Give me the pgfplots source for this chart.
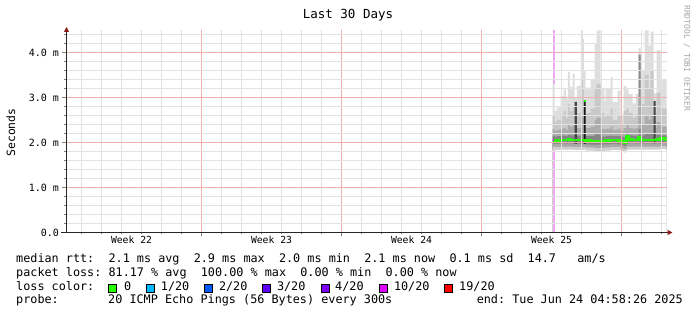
\documentclass[border=0pt]{standalone}
\usepackage{fontspec}
\setmainfont{DejaVu Sans Mono}
\newfontfamily\rrd{DejaVu Sans Mono}
\usepackage{pgfplots}
\pgfplotsset{compat=1.18}
\usepackage{pgfplotstable}
\usetikzlibrary{arrows.meta}
\definecolor{arrowred}{HTML}{8B1A1A}
\definecolor{mgrid}{HTML}{F0B0B0}
\definecolor{mingrid}{HTML}{E2E2E2}
\definecolor{s1}{HTML}{DEDEDE}
\definecolor{s2}{HTML}{C8C8C8}
\definecolor{s3}{HTML}{ACACAC}
\definecolor{s4}{HTML}{858585}
\definecolor{sda}{HTML}{454545}
\definecolor{sdb}{HTML}{181818}
\definecolor{sdc}{HTML}{8C8C8C}
\definecolor{slo1}{HTML}{A8A8A8}
\definecolor{slo2}{HTML}{CECECE}
\definecolor{pinkloss}{HTML}{F2A6F2}
\definecolor{c0}{HTML}{26FF00}
\definecolor{c1}{HTML}{00B8FF}
\definecolor{c2}{HTML}{0059FF}
\definecolor{c3}{HTML}{5E00FF}
\definecolor{c4}{HTML}{7E00FF}
\definecolor{c10}{HTML}{DD00FF}
\definecolor{c19}{HTML}{FF0000}

\pgfplotstableread{
x mx l2 l3 l4 da db dc lo1 lo2 lo3 med
24.30 3.30 2.60 2.30 2.15 0 0 0 1.97 1.91 1.84 2.05
24.40 2.70 2.45 2.25 2.13 0 0 0 1.97 1.90 1.83 2.04
24.50 2.78 2.50 2.28 2.14 0 0 0 1.97 1.90 1.83 2.04
24.70 3.03 2.62 2.30 2.15 0 0 0 1.98 1.91 1.84 2.05
24.85 3.18 2.70 2.32 2.15 0 0 0 1.98 1.91 1.84 2.06
24.97 2.98 2.55 2.28 2.14 0 0 0 1.97 1.90 1.83 2.06
25.07 3.57 2.85 2.40 2.17 0 0 0 1.98 1.91 1.84 2.07
25.17 3.23 2.70 2.35 2.16 0 0 0 1.98 1.91 1.84 2.06
25.30 3.53 2.80 2.38 2.16 0 0 0 1.97 1.90 1.83 2.05
25.40 3.00 2.90 2.40 2.16 2.90 0 0 1.97 1.90 1.83 2.05
25.52 3.26 2.65 2.32 2.15 0 0 0 1.97 1.90 1.83 2.05
25.72 4.49 3.40 2.60 2.20 0 0 0 1.97 1.90 1.83 2.05
25.82 4.30 3.20 2.55 2.20 0 0 0 1.97 1.90 1.83 2.05
25.87 3.60 2.92 2.60 2.20 0 2.92 0 1.97 1.91 1.84 2.05
25.95 3.22 2.65 2.32 2.14 0 0 0 1.96 1.89 1.82 2.04
26.20 3.41 2.75 2.35 2.14 0 0 0 1.95 1.89 1.82 2.03
26.40 4.20 3.20 2.50 2.18 0 0 0 1.95 1.88 1.81 2.02
26.50 4.49 3.30 2.55 2.18 0 0 0 1.95 1.88 1.81 2.02
26.70 3.20 2.65 2.30 2.13 0 0 0 1.95 1.88 1.81 2.02
26.90 2.92 2.55 2.28 2.13 0 0 0 1.96 1.89 1.82 2.03
26.95 3.19 2.62 2.30 2.14 0 0 0 1.96 1.89 1.82 2.04
27.20 3.45 2.75 2.35 2.15 0 0 0 1.97 1.90 1.83 2.05
27.30 2.90 2.50 2.28 2.14 0 0 0 1.97 1.90 1.83 2.05
27.55 3.15 2.60 2.30 2.14 0 0 0 1.96 1.90 1.83 2.04
27.70 2.60 2.40 2.25 2.13 0 0 0 1.94 1.87 1.80 2.03
27.85 3.26 2.70 2.32 2.12 0 0 0 1.92 1.85 1.78 1.99
28.00 3.20 2.75 2.40 2.22 0 0 0 1.97 1.90 1.83 2.14
28.10 3.08 2.65 2.32 2.16 0 0 0 1.98 1.91 1.84 2.07
28.30 2.87 2.55 2.30 2.15 0 0 0 1.98 1.91 1.84 2.06
28.45 3.08 2.62 2.32 2.15 0 0 0 1.98 1.91 1.84 2.06
28.60 4.10 3.95 3.00 2.30 0 0 3.95 1.98 1.91 1.84 2.11
28.70 3.60 2.90 2.40 2.17 0 0 0 1.98 1.91 1.84 2.07
28.75 3.60 2.85 2.40 2.16 0 0 0 1.98 1.91 1.84 2.06
28.90 4.49 3.50 2.60 2.20 0 0 0 1.98 1.91 1.84 2.06
29.10 4.15 3.20 2.50 2.18 0 0 0 1.98 1.91 1.84 2.06
29.20 4.47 3.60 2.60 2.20 0 0 0 1.98 1.91 1.84 2.06
29.35 3.10 2.92 2.50 2.18 2.92 0 0 1.98 1.91 1.84 2.06
29.45 3.10 2.65 2.32 2.15 0 0 0 1.98 1.91 1.84 2.06
29.50 4.05 3.10 2.45 2.17 0 0 0 1.98 1.91 1.84 2.07
29.70 3.40 2.75 2.35 2.16 0 0 0 1.99 1.92 1.85 2.09
29.95 3.40 2.75 2.35 2.16 0 0 0 1.98 1.91 1.84 2.06
30.00 3.40 2.75 2.35 2.16 0 0 0 1.98 1.91 1.84 2.06
}\smoke

\begin{document}
\frenchspacing
\begin{tikzpicture}
\path[use as bounding box] (0,0) rectangle (697pt,315pt);
\begin{axis}[
  at={(66.5pt,82.5pt)}, anchor=south west,
  scale only axis, width=600pt, height=202.5pt,
  xmin=0, xmax=30, ymin=0, ymax=4.5,
  axis lines=left,
  axis on top,
  axis line style={black!85, line width=1pt},
  every outer x axis line/.append style={-{Triangle[length=5pt,width=5pt,color=arrowred]}, shorten >=-6pt, shorten <=-5pt},
  every outer y axis line/.append style={-{Triangle[length=5pt,width=5pt,color=arrowred]}, shorten >=-3pt},
  xtick={6.75,13.75,20.75,27.75}, xticklabels={,,,},
  minor xtick={0.75,1.75,2.75,3.75,4.75,5.75,7.75,8.75,9.75,10.75,11.75,12.75,14.75,15.75,16.75,17.75,18.75,19.75,21.75,22.75,23.75,24.75,25.75,26.75,28.75,29.75},
  extra x ticks={3.25,10.25,17.25,24.25},
  extra x tick labels={Week 22,Week 23,Week 24,Week 25},
  extra x tick style={grid=none, major tick length=0pt, xticklabel style={yshift=-1.5pt}},
  ytick={0,1,2,3,4}, yticklabels={0.0,1.0 m,2.0 m,3.0 m,4.0 m},
  minor ytick={0.2,0.4,0.6,0.8,1.2,1.4,1.6,1.8,2.2,2.4,2.6,2.8,3.2,3.4,3.6,3.8,4.2,4.4},
  xmajorgrids, ymajorgrids, xminorgrids, yminorgrids,
  every major grid/.style={draw=mgrid, line width=0.8pt},
  every minor grid/.style={draw=mingrid, line width=0.7pt},
  tick align=outside,
  major tick length=4pt, minor tick length=2pt,
  xticklabel style={font=\rrd\fontsize{9.7}{11}\selectfont, inner sep=2pt},
  yticklabel style={font=\rrd\fontsize{10}{12}\selectfont},
]
\addplot[const plot, draw=none, fill=s1] table[x=x, y=mx] {\smoke} \closedcycle;
\addplot[const plot, draw=none, fill=s2] table[x=x, y=l2] {\smoke} \closedcycle;
\addplot[const plot, draw=none, fill=sdc] table[x=x, y=dc] {\smoke} \closedcycle;
\addplot[const plot, draw=none, fill=s3] table[x=x, y=l3] {\smoke} \closedcycle;
\addplot[const plot, draw=none, fill=s4] table[x=x, y=l4] {\smoke} \closedcycle;
\addplot[const plot, draw=none, fill=sda] table[x=x, y=da] {\smoke} \closedcycle;
\addplot[const plot, draw=none, fill=sdb] table[x=x, y=db] {\smoke} \closedcycle;
\addplot[const plot, draw=none, fill=slo1] table[x=x, y=lo1] {\smoke} \closedcycle;
\addplot[const plot, draw=none, fill=slo2] table[x=x, y=lo2] {\smoke} \closedcycle;
\addplot[const plot, draw=none, fill=white] table[x=x, y=lo3] {\smoke} \closedcycle;
\addplot[pinkloss, line width=2pt] coordinates {(24.36,0) (24.36,1.84)};
\addplot[pinkloss, line width=2pt] coordinates {(24.36,3.30) (24.36,4.49)};
\addplot[const plot, c0, line width=2.4pt] table[x=x, y=med] {\smoke};
\addplot[c0, line width=2.4pt] coordinates {(25.87,2.92) (25.95,2.92)};
\addplot[c10, line width=2.4pt] coordinates {(24.30,2.05) (24.38,2.05)};
\end{axis}

% title, axis label, watermark
\node[anchor=base, inner sep=0pt, font=\rrd\fontsize{12.5}{14}\selectfont] at (348pt,296.7pt) {Last 30 Days};
\node[rotate=90, inner sep=0pt, font=\rrd\fontsize{11.4}{13}\selectfont] at (11pt,182.5pt) {Seconds};
\node[rotate=-90, anchor=west, inner sep=0pt, text=black!35, font=\rrd\fontsize{8}{9}\selectfont] at (687pt,310pt) {RRDTOOL / TOBI OETIKER};

% legend block
\begin{scope}[every node/.style={anchor=base west, inner sep=0pt, font=\rrd\fontsize{11.8}{13}\selectfont}]
\node at (16pt,52.3pt) {median rtt:~~2.1 ms avg~~2.9 ms max~~2.0 ms min~~2.1 ms now~~0.1 ms sd~~14.7~~~am/s};
\node at (16pt,38.3pt) {packet loss:~81.17 \% avg~~100.00 \% max~~0.00 \% min~~0.00 \% now};
\node at (16pt,24.7pt) {loss color:};
\node at (124pt,24.7pt) {0};
\node at (160.7pt,24.7pt) {1/20};
\node at (218.8pt,24.7pt) {2/20};
\node at (276.8pt,24.7pt) {3/20};
\node at (335pt,24.7pt) {4/20};
\node at (393.8pt,24.7pt) {10/20};
\node at (459pt,24.7pt) {19/20};
\node at (16pt,11.3pt) {probe:};
\node at (108pt,11.3pt) {20 ICMP Echo Pings (56 Bytes) every 300s};
\node[anchor=base east] at (683pt,11.3pt) {end: Tue Jun 24 04:58:26 2025};
\end{scope}
\begin{scope}[line width=0.7pt]
\filldraw[fill=c0, draw=black] (108.5pt,22.7pt) rectangle ++(8pt,7.6pt);
\filldraw[fill=c1, draw=black] (146pt,22.7pt) rectangle ++(8pt,7.6pt);
\filldraw[fill=c2, draw=black] (204.5pt,22.7pt) rectangle ++(8pt,7.6pt);
\filldraw[fill=c3, draw=black] (262.5pt,22.7pt) rectangle ++(8pt,7.6pt);
\filldraw[fill=c4, draw=black] (321pt,22.7pt) rectangle ++(8pt,7.6pt);
\filldraw[fill=c10, draw=black] (379pt,22.7pt) rectangle ++(8pt,7.6pt);
\filldraw[fill=c19, draw=black] (444pt,22.7pt) rectangle ++(8pt,7.6pt);
\end{scope}
\end{tikzpicture}
\end{document}
